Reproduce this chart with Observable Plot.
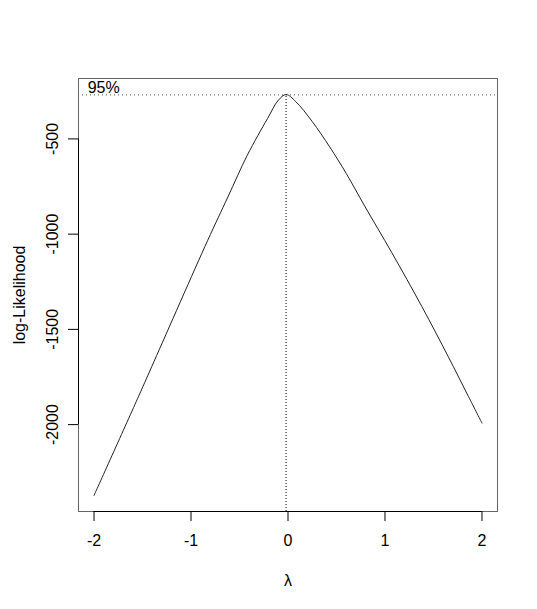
<!DOCTYPE html>
<html>
<head>
<meta charset="utf-8">
<script src="https://cdn.jsdelivr.net/npm/d3@7"></script>
<script src="https://cdn.jsdelivr.net/npm/@observablehq/plot@0.6"></script>
<style>
  html, body { margin: 0; padding: 0; background: #fff; }
  #chart { width: 537px; height: 609px; }
</style>
</head>
<body>
<div id="chart"></div>
<script>
// Box-Cox profile log-likelihood
const lambda = [-2, -1.54, -1.38, -0.83, -0.62, -0.42, -0.21, -0.1, -0.02, 0.08, 0.25, 0.43, 0.6, 0.79, 1.07, 1.38, 1.65, 1.86, 2];
const loglik = [-2372, -1851, -1667, -1035, -805, -586, -392, -297, -267, -304, -409, -542, -681, -852, -1097, -1380, -1641, -1852, -1992];
const xTicks = [-2, -1, 0, 1, 2];
const yTicks = [-500, -1000, -1500, -2000];
const xLabel = "λ";
const yLabel = "log-Likelihood";
const ciLabel = "95%";
const chiHalf = 1.92;   // qchisq(0.95, 1) / 2

const data = lambda.map((l, i) => ({lambda: l, loglik: loglik[i]}));
const maxI = d3.maxIndex(loglik);
const mle = lambda[maxI];
const lmax = loglik[maxI];
const lim = lmax - chiHalf;

const [ymin, ymax] = d3.extent(loglik);
const yExt = (ymax - ymin) * 0.04;
const [xmin, xmax] = d3.extent(lambda);
const xExt = (xmax - xmin) * 0.04;
const yDomain = [ymin - yExt, ymax + yExt];
const xDomain = [xmin - xExt, xmax + xExt];

const chart = Plot.plot({
  width: 537,
  height: 609,
  marginLeft: 78,
  marginRight: 40,
  marginTop: 78,
  marginBottom: 98,
  style: {fontFamily: "'Liberation Sans', Arial, Helvetica, sans-serif", fontSize: "16px", background: "#fff", color: "#000"},
  x: {domain: xDomain},
  y: {domain: yDomain},
  marks: [
    Plot.frame({stroke: "#666", strokeWidth: 1}),
    // axis lines (from first to last tick, as in R)
    Plot.ruleY([yDomain[0]], {x1: d3.min(xTicks), x2: d3.max(xTicks), stroke: "#000"}),
    Plot.ruleX([xDomain[0]], {y1: d3.min(yTicks), y2: d3.max(yTicks), stroke: "#000"}),
    Plot.axisX({ticks: xTicks, tickSize: 10, tickFormat: () => "", label: null, stroke: "#000"}),
    Plot.axisY({ticks: yTicks, tickSize: 10, tickFormat: () => "", label: null, stroke: "#000"}),
    Plot.text(xTicks, {x: d => d, frameAnchor: "bottom", dy: 29, text: d => String(d), lineAnchor: "middle", fill: "#000"}),
    Plot.text(yTicks, {y: d => d, frameAnchor: "left", dx: -26, rotate: -90, text: d => String(d), textAnchor: "middle", lineAnchor: "middle", fill: "#000"}),
    Plot.text([xLabel], {frameAnchor: "bottom", dy: 69, text: d => d, lineAnchor: "middle", fill: "#000"}),
    Plot.text([yLabel], {frameAnchor: "left", dx: -59, rotate: -90, text: d => d, textAnchor: "middle", lineAnchor: "middle", fill: "#000"}),
    // 95% horizontal dotted line
    Plot.ruleY([lim], {stroke: "#555", strokeDasharray: "1,3"}),
    // MLE vertical dotted line
    Plot.ruleX([mle], {y1: yDomain[0], y2: lmax, stroke: "#000", strokeDasharray: "1,2"}),
    Plot.text([ciLabel], {x: xmin + 0.1, y: lim, dy: -7, text: d => d, textAnchor: "middle", lineAnchor: "middle", fill: "#000"}),
    // profile curve
    Plot.line(data, {x: "lambda", y: "loglik", curve: "catmull-rom", stroke: "#222", strokeWidth: 1})
  ]
});
document.getElementById("chart").appendChild(chart);
</script>
</body>
</html>
